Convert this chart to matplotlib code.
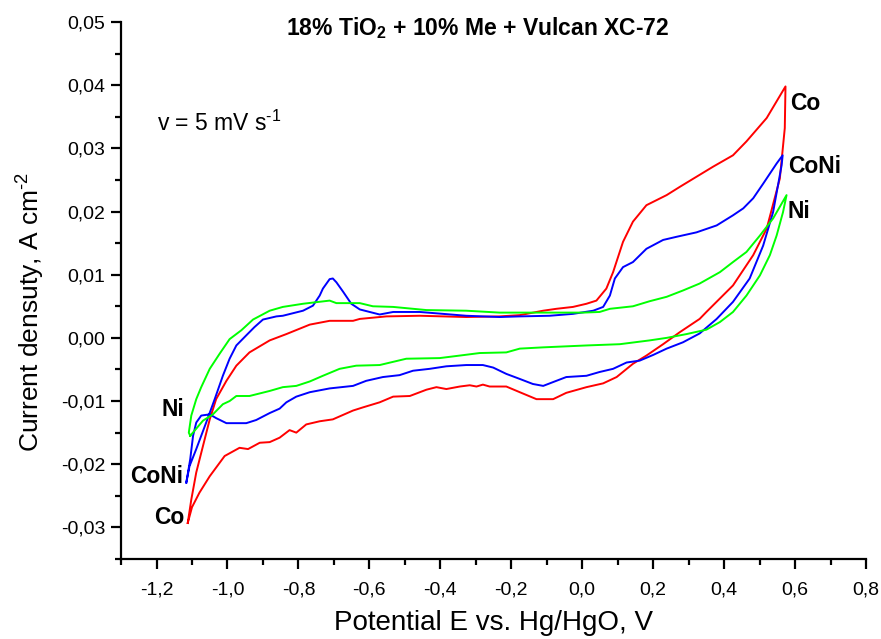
import matplotlib

matplotlib.use("Agg")
import matplotlib.pyplot as plt
from matplotlib.ticker import FuncFormatter, MultipleLocator

plt.rcParams["font.family"] = ["Liberation Sans", "DejaVu Sans"]
plt.rcParams["mathtext.fontset"] = "custom"
plt.rcParams["mathtext.rm"] = "Liberation Sans"
plt.rcParams["mathtext.bf"] = "Liberation Sans:bold"

# Co: cathodic branch (left -> right), then anodic branch (right -> left)
co_x = [-1.112, -1.100, -1.079, -1.050, -1.008, -0.966, -0.942, -0.909, -0.881, -0.853,
        -0.825, -0.806, -0.778, -0.740, -0.703, -0.646, -0.618, -0.571, -0.533, -0.486,
        -0.439, -0.411, -0.383, -0.345, -0.317, -0.298, -0.280, -0.261, -0.214, -0.176,
        -0.129, -0.082, -0.045, 0.012, 0.059, 0.097, 0.143, 0.181, 0.228, 0.275,
        0.331, 0.350, 0.425, 0.482, 0.520, 0.557, 0.571, 0.573,
        0.520, 0.463, 0.425, 0.369, 0.275, 0.238, 0.181, 0.143, 0.115, 0.087,
        0.068, 0.040, 0.012, -0.026, -0.073, -0.110, -0.176, -0.233, -0.327, -0.458,
        -0.552, -0.627, -0.646, -0.712, -0.768, -0.834, -0.881, -0.938, -0.975, -1.003,
        -1.032, -1.050, -1.069, -1.088, -1.102, -1.112]
co_y = [-0.0293, -0.0268, -0.0245, -0.0219, -0.0187, -0.0174, -0.0176, -0.0166, -0.0165, -0.0158,
        -0.0146, -0.0150, -0.0137, -0.0132, -0.0129, -0.0115, -0.0110, -0.0102, -0.0093, -0.0092,
        -0.0082, -0.0078, -0.0081, -0.0077, -0.0075, -0.0077, -0.0074, -0.0077, -0.0077, -0.0086,
        -0.0097, -0.0097, -0.0087, -0.0078, -0.0072, -0.0062, -0.0041, -0.0028, -0.0010, 0.0009,
        0.0030, 0.0041, 0.0083, 0.0131, 0.0173, 0.0252, 0.0332, 0.0398,
        0.0348, 0.0311, 0.0289, 0.0271, 0.0239, 0.0226, 0.0210, 0.0184, 0.0152, 0.0104,
        0.0078, 0.0059, 0.0054, 0.0049, 0.0046, 0.0043, 0.0036, 0.0034, 0.0033, 0.0035,
        0.0034, 0.0030, 0.0027, 0.0027, 0.0021, 0.0006, -0.0004, -0.0023, -0.0044, -0.0068,
        -0.0097, -0.0129, -0.0171, -0.0213, -0.0256, -0.0293]

coni_x = [-1.116, -1.105, -1.097, -1.088, -1.074, -1.050, -1.032, -1.003, -0.947, -0.919,
          -0.881, -0.853, -0.834, -0.806, -0.768, -0.740, -0.712, -0.646, -0.609, -0.562,
          -0.515, -0.477, -0.430, -0.383, -0.327, -0.280, -0.251, -0.214, -0.176, -0.139,
          -0.110, -0.073, -0.045, 0.012, 0.049, 0.087, 0.125, 0.162, 0.200, 0.238,
          0.284, 0.331, 0.379, 0.425, 0.472, 0.510, 0.538, 0.552, 0.562, 0.565,
          0.548, 0.510, 0.482, 0.454, 0.425, 0.379, 0.322, 0.266, 0.228, 0.181,
          0.143, 0.115, 0.092, 0.078, 0.059, 0.031, -0.026, -0.092, -0.176, -0.233,
          -0.327, -0.458, -0.533, -0.571, -0.599, -0.627, -0.651, -0.674, -0.693, -0.703,
          -0.712, -0.731, -0.740, -0.759, -0.787, -0.844, -0.862, -0.900, -0.924, -0.947,
          -0.975, -0.994, -1.013, -1.036, -1.060, -1.088, -1.107, -1.116]
coni_y = [-0.0229, -0.0192, -0.0155, -0.0134, -0.0123, -0.0121, -0.0127, -0.0135, -0.0135, -0.0130,
          -0.0119, -0.0112, -0.0102, -0.0093, -0.0086, -0.0083, -0.0080, -0.0076, -0.0068, -0.0062,
          -0.0059, -0.0052, -0.0049, -0.0045, -0.0043, -0.0043, -0.0047, -0.0057, -0.0065, -0.0073,
          -0.0076, -0.0068, -0.0062, -0.0060, -0.0054, -0.0049, -0.0039, -0.0036, -0.0027, -0.0017,
          -0.0007, 0.0007, 0.0030, 0.0057, 0.0094, 0.0146, 0.0199, 0.0242, 0.0273, 0.0289,
          0.0276, 0.0244, 0.0221, 0.0205, 0.0194, 0.0178, 0.0167, 0.0160, 0.0155, 0.0141,
          0.0120, 0.0112, 0.0094, 0.0067, 0.0049, 0.0043, 0.0038, 0.0035, 0.0034, 0.0033,
          0.0035, 0.0041, 0.0041, 0.0037, 0.0041, 0.0045, 0.0054, 0.0073, 0.0088, 0.0094,
          0.0093, 0.0078, 0.0067, 0.0051, 0.0043, 0.0035, 0.0034, 0.0029, 0.0017, 0.0004,
          -0.0012, -0.0033, -0.0060, -0.0097, -0.0134, -0.0176, -0.0203, -0.0229]

ni_x = [-1.105, -1.093, -1.069, -1.041, -1.013, -0.994, -0.975, -0.938, -0.881, -0.844,
        -0.806, -0.768, -0.731, -0.684, -0.637, -0.571, -0.496, -0.402, -0.345, -0.289,
        -0.214, -0.176, -0.110, 0.012, 0.106, 0.190, 0.238, 0.294, 0.350, 0.388,
        0.425, 0.463, 0.501, 0.529, 0.548, 0.566, 0.576,
        0.538, 0.501, 0.463, 0.425, 0.388, 0.331, 0.284, 0.238, 0.190, 0.143,
        0.078, 0.049, 0.002, -0.139, -0.233, -0.327, -0.439, -0.533, -0.590, -0.627,
        -0.693, -0.712, -0.787, -0.844, -0.881, -0.928, -0.961, -0.994, -1.022, -1.050,
        -1.074, -1.088, -1.102, -1.109, -1.105]
ni_y = [-0.0155, -0.0147, -0.0131, -0.0121, -0.0105, -0.0100, -0.0092, -0.0092, -0.0084, -0.0078,
        -0.0076, -0.0069, -0.0060, -0.0049, -0.0044, -0.0043, -0.0033, -0.0032, -0.0028, -0.0024,
        -0.0023, -0.0017, -0.0015, -0.0012, -0.0010, -0.0004, 0.0000, 0.0006, 0.0013, 0.0025,
        0.0041, 0.0067, 0.0099, 0.0131, 0.0162, 0.0199, 0.0226,
        0.0189, 0.0162, 0.0136, 0.0120, 0.0104, 0.0086, 0.0075, 0.0065, 0.0058, 0.0050,
        0.0046, 0.0041, 0.0040, 0.0040, 0.0040, 0.0043, 0.0044, 0.0049, 0.0050, 0.0055,
        0.0055, 0.0059, 0.0054, 0.0049, 0.0043, 0.0029, 0.0012, -0.0002, -0.0025, -0.0049,
        -0.0078, -0.0097, -0.0123, -0.0150, -0.0155]

series = [("Co", co_x, co_y, "#ff0000"),
          ("CoNi", coni_x, coni_y, "#0000ff"),
          ("Ni", ni_x, ni_y, "#00ff00")]

# curve end labels
right_labels = [("Co", 0.585, 0.0371), ("CoNi", 0.580, 0.0271), ("Ni", 0.580, 0.0200)]
left_labels = [("Ni", -1.121, -0.0113), ("CoNi", -1.125, -0.0219), ("Co", -1.121, -0.0284)]


def comma(v, nd):
    if abs(v) < 1e-9:
        v = 0.0
    return f"{v:.{nd}f}".replace(".", ",")


fig = plt.figure(figsize=(8.81, 6.39), dpi=100)
ax = fig.add_axes([0.1374, 0.1252, 0.8456, 0.8404])

for name, xs, ys, color in series:
    ax.plot(xs, ys, color=color, lw=1.4)

for text, x, y in right_labels:
    ax.text(x, y, text, fontsize=16.5, fontweight="bold", ha="left", va="center")
for text, x, y in left_labels:
    ax.text(x, y, text, fontsize=16.5, fontweight="bold", ha="right", va="center")

ax.text(-1.2, 0.034, r"v = 5 mV s$^{\text{-1}}$", fontsize=16.5, ha="left", va="center")

ax.set_xlim(-1.3, 0.8)
ax.set_ylim(-0.035, 0.05)
ax.xaxis.set_major_locator(MultipleLocator(0.2))
ax.xaxis.set_minor_locator(MultipleLocator(0.1))
ax.yaxis.set_major_locator(MultipleLocator(0.01))
ax.yaxis.set_minor_locator(MultipleLocator(0.005))
ax.xaxis.set_major_formatter(FuncFormatter(lambda v, p: comma(v, 1)))
ax.yaxis.set_major_formatter(FuncFormatter(lambda v, p: comma(v, 2)))

ax.spines[["top", "right"]].set_visible(False)
for s in ("left", "bottom"):
    ax.spines[s].set_linewidth(1.6)
ax.tick_params(which="major", direction="out", length=7.5, width=1.6, labelsize=14)
ax.tick_params(which="minor", direction="out", length=4, width=1.6)
ax.tick_params(axis="x", which="major", pad=9)
ax.tick_params(axis="y", which="major", pad=4)

ax.set_xlabel("Potential E vs. Hg/HgO, V", fontsize=20, labelpad=8)
ax.set_ylabel(r"Current densuty, A cm$^{\text{-2}}$", fontsize=19, labelpad=9)
ax.yaxis.set_label_coords(-0.101, 0.46)

fig.text(0.5415, 0.956, r"18% TiO$_\mathbf{2}$ + 10% Me + Vulcan XC-72",
         fontsize=16.5, fontweight="bold", ha="center", va="center")

fig.savefig("out.png", dpi=100)
